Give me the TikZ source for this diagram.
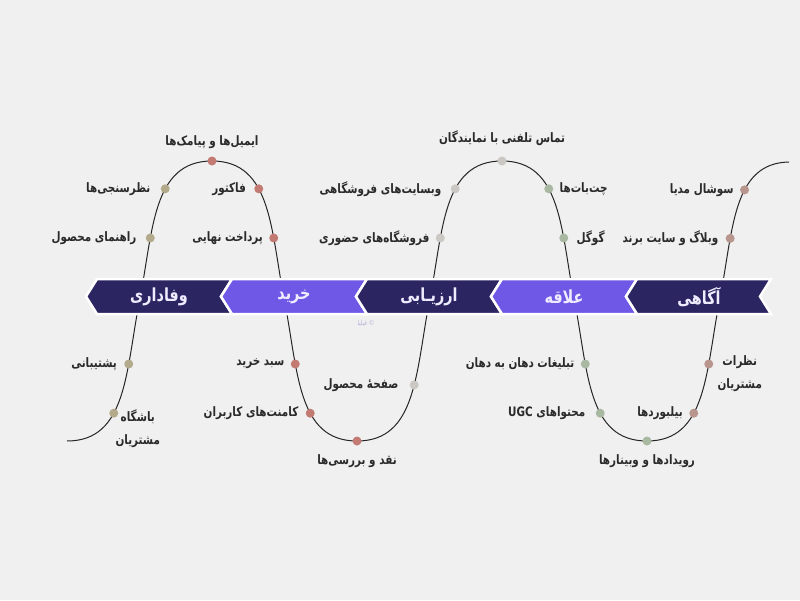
\documentclass[tikz,border=0pt]{standalone}
\usepackage{fontspec}
\usetikzlibrary{positioning}
\newfontfamily\fa[Script=Arabic, FakeStretch=0.8]{DejaVu Sans}
\TeXXeTstate=1
\newcommand{\zw}{^^^^200c}
\definecolor{bggray}{HTML}{F0F0F0}
\definecolor{stagedark}{HTML}{2B2562}
\definecolor{stagelight}{HTML}{7058E6}
\definecolor{stagetext}{HTML}{F0ECFF}
\definecolor{labeltext}{HTML}{2A2A2A}
\definecolor{dotkhaki}{HTML}{B3AA8C}
\definecolor{dotred}{HTML}{C27A72}
\definecolor{dotgray}{HTML}{CBC7C2}
\definecolor{dotgreen}{HTML}{A9B8A1}
\definecolor{dotrose}{HTML}{B8968D}
\definecolor{wmark}{HTML}{B8B2D8}

\begin{document}
\begin{tikzpicture}[x=1pt, y=-1pt,
	stopdot/.style={circle, inner sep=0pt, minimum size=9pt, fill=#1},
	lbl/.style={font=\fa\bfseries\fontsize{13}{15}\selectfont, text=labeltext, inner sep=0pt},
	lbltwo/.style={lbl, align=center, font=\fa\bfseries\fontsize{13}{23}\selectfont},
	stage/.style={draw=white, line width=2.5pt, line join=miter},
	stagetxt/.style={font=\fa\bfseries\fontsize{18}{20}\selectfont, text=stagetext}]

	\fill[bggray] (0,0) rectangle (800,600);
	\useasboundingbox (0,0) rectangle (800,600);

	\draw[line width=1pt, black!85] (67,441)
		.. controls (127,441) and (125.7,371) .. (139.5,301) coordinate[pos=0.39] (vf1) coordinate[pos=0.69] (vf2)
		.. controls (153.3,231) and (152,161) .. (212,161) coordinate[pos=0.31] (vf3) coordinate[pos=0.61] (vf4) coordinate[pos=1] (kh1)
		.. controls (272,161) and (270.7,231) .. (284.5,301) coordinate[pos=0.39] (kh2) coordinate[pos=0.69] (kh3)
		.. controls (298.3,371) and (297,441) .. (357,441) coordinate[pos=0.31] (kh4) coordinate[pos=0.61] (kh5) coordinate[pos=1] (kh6)
		.. controls (417,441) and (415.7,371) .. (429.5,301) coordinate[pos=0.575] (ar1)
		.. controls (443.3,231) and (442,161) .. (502,161) coordinate[pos=0.31] (ar2) coordinate[pos=0.61] (ar3) coordinate[pos=1] (ar4)
		.. controls (562,161) and (560.7,231) .. (574.5,301) coordinate[pos=0.39] (al1) coordinate[pos=0.69] (al2)
		.. controls (588.3,371) and (587,441) .. (647,441) coordinate[pos=0.31] (al3) coordinate[pos=0.61] (al4) coordinate[pos=1] (al5)
		.. controls (707,441) and (705.7,371) .. (719.5,301) coordinate[pos=0.39] (ag1) coordinate[pos=0.69] (ag2)
		.. controls (733.3,231) and (732,163) .. (789,162) coordinate[pos=0.31] (ag3) coordinate[pos=0.61] (ag4);

	\draw[stage, fill=stagedark] (86,296.5) -- (97,279) -- (232,279) -- (221,296.5) -- (232,314) -- (97,314) -- cycle;
	\draw[stage, fill=stagelight] (221,296.5) -- (232,279) -- (367,279) -- (356,296.5) -- (367,314) -- (232,314) -- cycle;
	\draw[stage, fill=stagedark] (356,296.5) -- (367,279) -- (502,279) -- (491,296.5) -- (502,314) -- (367,314) -- cycle;
	\draw[stage, fill=stagelight] (491,296.5) -- (502,279) -- (637,279) -- (626,296.5) -- (637,314) -- (502,314) -- cycle;
	\draw[stage, fill=stagedark] (626,296.5) -- (637,279) -- (771,279) -- (760,296.5) -- (771,314) -- (637,314) -- cycle;

	\node[stagetxt] (st1) at (159,297) {\beginR وفاداری\endR};
	\node[stagetxt] (st2) at (294,297) {\beginR خرید\endR};
	\node[stagetxt] (st3) at (429,297) {\beginR ارزیـابی\endR};
	\node[stagetxt] (st4) at (564,297) {\beginR علاقه\endR};
	\node[stagetxt] (st5) at (699,297) {\beginR آگاهی\endR};
	\node[font=\fa\fontsize{7}{8}\selectfont, text=wmark] (wm) at (366,323) {\beginR © فیلیا\endR};

	% dots
	\node[stopdot=dotkhaki] (d1) at (vf1) {};
	\node[stopdot=dotkhaki] (d2) at (vf2) {};
	\node[stopdot=dotkhaki] (d3) at (vf3) {};
	\node[stopdot=dotkhaki] (d4) at (vf4) {};
	\node[stopdot=dotred] (d5) at (kh1) {};
	\node[stopdot=dotred] (d6) at (kh2) {};
	\node[stopdot=dotred] (d7) at (kh3) {};
	\node[stopdot=dotred] (d8) at (kh4) {};
	\node[stopdot=dotred] (d9) at (kh5) {};
	\node[stopdot=dotred] (d10) at (kh6) {};
	\node[stopdot=dotgray] (d11) at (ar1) {};
	\node[stopdot=dotgray] (d12) at (ar2) {};
	\node[stopdot=dotgray] (d13) at (ar3) {};
	\node[stopdot=dotgray] (d14) at (ar4) {};
	\node[stopdot=dotgreen] (d15) at (al1) {};
	\node[stopdot=dotgreen] (d16) at (al2) {};
	\node[stopdot=dotgreen] (d17) at (al3) {};
	\node[stopdot=dotgreen] (d18) at (al4) {};
	\node[stopdot=dotgreen] (d19) at (al5) {};
	\node[stopdot=dotrose] (d20) at (ag1) {};
	\node[stopdot=dotrose] (d21) at (ag2) {};
	\node[stopdot=dotrose] (d22) at (ag3) {};
	\node[stopdot=dotrose] (d23) at (ag4) {};

	% labels
	\node[lbltwo] (l1) at ([xshift=24pt, yshift=-15pt]d1) {\beginR باشگاه\endR\\\beginR مشتریان\endR};
	\node[lbl, left=7pt of d2] (l2) {\beginR پشتیبانی\endR};
	\node[lbl, left=9pt of d3] (l3) {\beginR راهنمای محصول\endR};
	\node[lbl, left=10pt of d4] (l4) {\beginR نظرسنجی\zw ها\endR};
	\node[lbl, above=7pt of d5] (l5) {\beginR ایمیل\zw ها و پیامک\zw ها\endR};
	\node[lbl, left=8pt of d6] (l6) {\beginR فاکتور\endR};
	\node[lbl, left=6pt of d7] (l7) {\beginR پرداخت نهایی\endR};
	\node[lbl, left=6pt of d8] (l8) {\beginR سبد خرید\endR};
	\node[lbl, left=7pt of d9] (l9) {\beginR کامنت\zw های کاربران\endR};
	\node[lbl, below=9pt of d10] (l10) {\beginR نقد و بررسی\zw ها\endR};
	\node[lbl, left=11pt of d11] (l11) {\beginR صفحه^^^^0654 محصول\endR};
	\node[lbl, left=6pt of d12] (l12) {\beginR فروشگاه\zw های حضوری\endR};
	\node[lbl, left=9pt of d13] (l13) {\beginR وبسایت\zw های فروشگاهی\endR};
	\node[lbl, above=10pt of d14] (l14) {\beginR تماس تلفنی با نمایندگان\endR};
	\node[lbl, right=6pt of d15] (l15) {\beginR چت\zw بات\zw ها\endR};
	\node[lbl, right=8pt of d16] (l16) {\beginR گوگل\endR};
	\node[lbl, left=6pt of d17] (l17) {\beginR تبلیغات دهان به دهان\endR};
	\node[lbl, left=10pt of d18] (l18) {\beginR محتواهای \beginL UGC\endL\endR};
	\node[lbl, below=9pt of d19] (l19) {\beginR رویدادها و وبینارها\endR};
	\node[lbl, left=6pt of d20] (l20) {\beginR بیلبوردها\endR};
	\node[lbltwo] (l21) at ([xshift=31pt, yshift=-10pt]d21) {\beginR نظرات\endR\\\beginR مشتریان\endR};
	\node[lbl, left=7pt of d22] (l22) {\beginR وبلاگ و سایت برند\endR};
	\node[lbl, left=6pt of d23] (l23) {\beginR سوشال مدیا\endR};

\end{tikzpicture}
\end{document}
